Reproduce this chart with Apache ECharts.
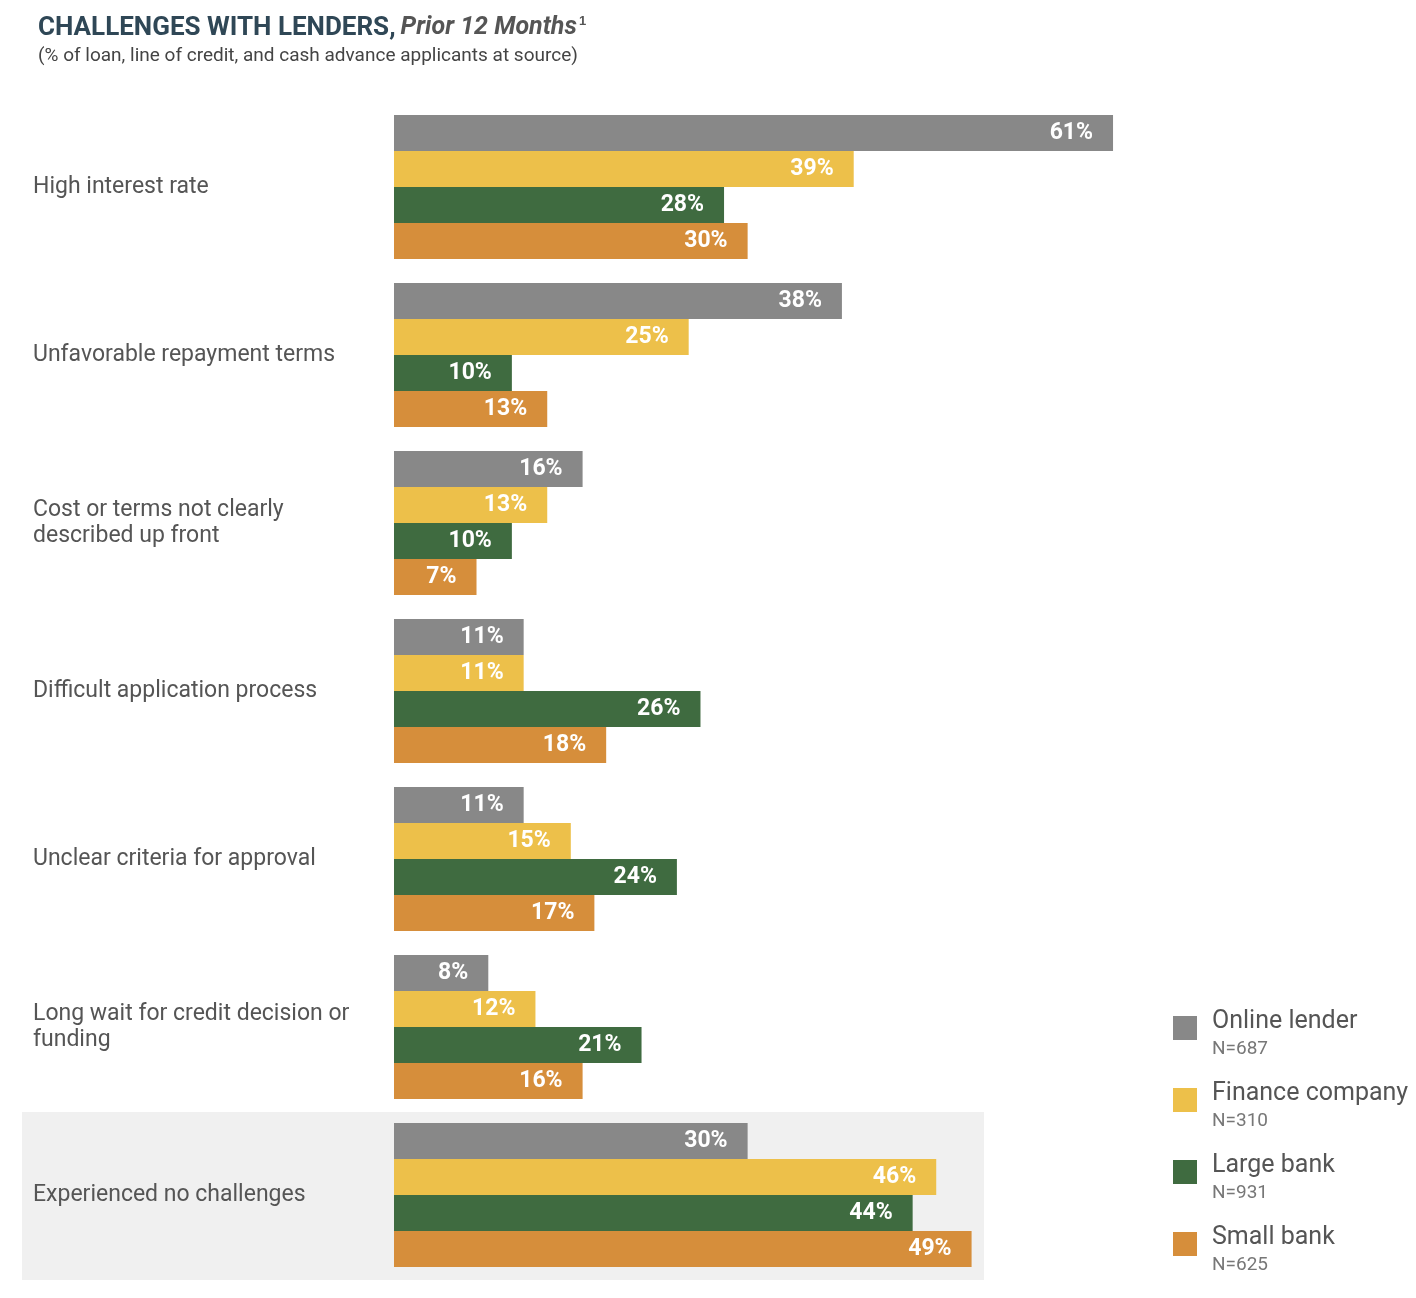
<!DOCTYPE html>
<html>
<head>
<meta charset="utf-8">
<script src="https://cdn.jsdelivr.net/npm/echarts@6/dist/echarts.min.js"></script>
<style>html,body{margin:0;background:#fff}#main{width:1416px;height:1298px}</style>
</head>
<body>
<div id="main"></div>
<script>
var categories = [
  'High interest rate',
  'Unfavorable repayment terms',
  'Cost or terms not clearly\ndescribed up front',
  'Difficult application process',
  'Unclear criteria for approval',
  'Long wait for credit decision or\nfunding',
  'Experienced no challenges'
];
var seriesNames = ['Online lender', 'Finance company', 'Large bank', 'Small bank'];
var sampleSizes = ['N=687', 'N=310', 'N=931', 'N=625'];
var onlineLender = [61, 38, 16, 11, 11, 8, 30];
var financeCompany = [39, 25, 13, 11, 15, 12, 46];
var largeBank = [28, 10, 10, 26, 24, 21, 44];
var smallBank = [30, 13, 7, 18, 17, 16, 49];
var colors = ['#888888', '#EDC04A', '#3F6B40', '#D68E3B'];

var dom = document.getElementById('main');
var myChart = echarts.init(dom, null, { renderer: 'canvas' });

var values = [onlineLender, financeCompany, largeBank, smallBank];
var series = seriesNames.map(function (name, i) {
  return {
    name: name,
    type: 'bar',
    data: values[i],
    barWidth: 36,
    barGap: '0%',
    itemStyle: { color: colors[i] },
    label: {
      show: true,
      position: 'insideRight',
      formatter: '{c}%',
      color: '#fff',
      fontWeight: 'bold',
      fontSize: 23,
      fontFamily: 'Roboto',
      distance: 20
    }
  };
});

var option = {
  animation: false,
  color: colors,
  title: {
    left: 33,
    top: 10,
    text: '{b|CHALLENGES WITH LENDERS,} {i|Prior 12 Months}{s|1}',
    subtext: '(% of loan, line of credit, and cash advance applicants at source)',
    itemGap: 6,
    textStyle: {
      rich: {
        b: { fontSize: 26, fontWeight: 'bold', color: '#2F4756', fontFamily: 'Roboto' },
        i: { fontSize: 25, fontStyle: 'italic', color: '#555', fontFamily: 'Roboto' },
        s: { fontSize: 13, color: '#555', verticalAlign: 'top', padding: [0, 0, 12, 2] }
      }
    },
    subtextStyle: { fontSize: 19, color: '#444', fontFamily: 'Roboto' }
  },
  graphic: [{
    type: 'rect', z: -1,
    shape: { x: 22, y: 1112, width: 962, height: 168 },
    style: { fill: '#F0F0F0' }
  }],
  legend: {
    orient: 'vertical',
    left: 1168,
    top: 1004,
    itemWidth: 24,
    itemHeight: 24,
    itemGap: 22,
    icon: 'rect',
    align: 'left',
    formatter: function (name) {
      return '{n|' + name + '}\n{s|' + sampleSizes[seriesNames.indexOf(name)] + '}';
    },
    textStyle: {
      rich: {
        n: { fontSize: 25, color: '#555', fontFamily: 'Roboto', padding: [12, 0, 6, 10] },
        s: { fontSize: 19, color: '#777', fontFamily: 'Roboto', padding: [0, 0, 0, 10] }
      }
    }
  },
  grid: { left: 394, top: 103, width: 943, height: 1176, containLabel: false },
  xAxis: {
    type: 'value', min: 0, max: 80, show: false
  },
  yAxis: {
    type: 'category',
    data: categories,
    inverse: true,
    axisLine: { show: false },
    axisTick: { show: false },
    axisLabel: {
      margin: 361,
      align: 'left',
      fontSize: 23,
      lineHeight: 26,
      color: '#555',
      fontFamily: 'Roboto'
    }
  },
  series: series
};

if (option && typeof option === 'object') {
  myChart.setOption(option);
}
window.addEventListener('resize', myChart.resize);
</script>
</body>
</html>
